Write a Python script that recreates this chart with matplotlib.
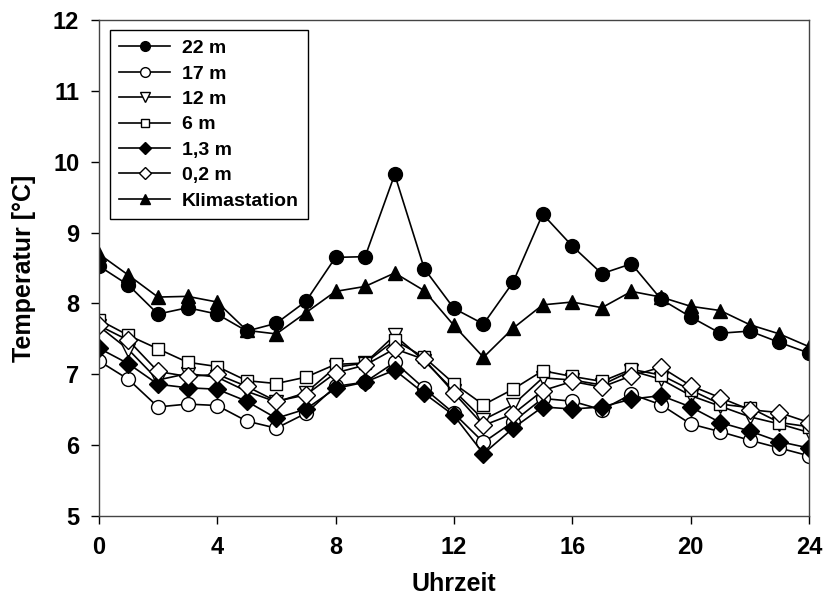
#Temperaturverlauf ueber den Tag in verschiedenen Hoehen

import numpy as np
import matplotlib.pyplot as plt

plt.rcParams['font.family'] = ['Liberation Sans', 'DejaVu Sans']
plt.rcParams['font.weight'] = 'bold'

#Stunden 0..24
hours = np.arange(0, 25)

t22 = [8.53, 8.26, 7.85, 7.94, 7.85, 7.61, 7.72, 8.03, 8.65, 8.66, 9.82, 8.49, 7.93, 7.71, 8.30,
       9.26, 8.81, 8.42, 8.56, 8.06, 7.81, 7.58, 7.61, 7.45, 7.30]
t17 = [7.19, 6.93, 6.54, 6.58, 6.56, 6.34, 6.24, 6.45, 6.83, 6.89, 7.17, 6.80, 6.45, 6.04, 6.33,
       6.66, 6.62, 6.50, 6.72, 6.57, 6.30, 6.19, 6.07, 5.96, 5.85]
t12 = [7.68, 7.35, 6.92, 7.01, 6.96, 6.76, 6.61, 6.74, 7.10, 7.16, 7.55, 7.19, 6.77, 6.36, 6.57,
       6.95, 6.92, 6.85, 7.05, 6.93, 6.70, 6.55, 6.40, 6.30, 6.18]
t6 = [7.77, 7.55, 7.36, 7.17, 7.11, 6.91, 6.87, 6.96, 7.14, 7.16, 7.48, 7.24, 6.87, 6.57, 6.79,
      7.05, 6.97, 6.90, 7.07, 6.99, 6.78, 6.58, 6.53, 6.32, 6.26]
t13 = [7.37, 7.15, 6.86, 6.81, 6.79, 6.62, 6.38, 6.51, 6.80, 6.89, 7.06, 6.73, 6.42, 5.88, 6.24,
       6.54, 6.51, 6.54, 6.65, 6.70, 6.54, 6.32, 6.20, 6.05, 5.96]
t02 = [7.69, 7.48, 7.04, 6.97, 7.00, 6.83, 6.62, 6.71, 7.02, 7.13, 7.36, 7.21, 6.74, 6.28, 6.44,
       6.77, 6.90, 6.82, 6.98, 7.10, 6.84, 6.67, 6.50, 6.46, 6.32]
tklima = [8.70, 8.40, 8.09, 8.10, 8.02, 7.62, 7.57, 7.87, 8.17, 8.24, 8.43, 8.18, 7.69, 7.24, 7.65,
          7.98, 8.02, 7.94, 8.17, 8.09, 7.96, 7.90, 7.70, 7.57, 7.39]

fig = plt.figure(figsize=(8.23, 6.05), dpi=100)
ax = fig.add_axes([0.120, 0.147, 0.863, 0.820])

ms = 10
lw = 1.2
ax.plot(hours, t22, color="black", lw=lw, marker="o", ms=ms, mfc="black", mec="black", label="22 m")
ax.plot(hours, t17, color="black", lw=lw, marker="o", ms=ms, mfc="white", mec="black", label="17 m")
ax.plot(hours, t12, color="black", lw=lw, marker="v", ms=ms, mfc="white", mec="black", label="12 m")
ax.plot(hours, t6, color="black", lw=lw, marker="s", ms=ms - 1, mfc="white", mec="black", label="6 m")
ax.plot(hours, t13, color="black", lw=lw, marker="D", ms=ms - 1, mfc="black", mec="black", label="1,3 m")
ax.plot(hours, t02, color="black", lw=lw, marker="D", ms=ms - 1, mfc="white", mec="black", label="0,2 m")
ax.plot(hours, tklima, color="black", lw=lw, marker="^", ms=ms, mfc="black", mec="black", label="Klimastation")

#Achsen
ax.set_xlim(0, 24)
ax.set_ylim(5, 12)
ax.set_xticks(np.arange(0, 25, 4))
ax.set_yticks(np.arange(5, 13, 1))
ax.tick_params(direction="out", length=6, width=1, labelsize=17, pad=8)
for lab in ax.get_xticklabels() + ax.get_yticklabels():
    lab.set_fontweight("bold")
for s in ax.spines.values():
    s.set_linewidth(1)
    s.set_color("#444444")

ax.set_xlabel("Uhrzeit", fontsize=18, fontweight="bold", labelpad=10)
ax.set_ylabel("Temperatur [°C]", fontsize=18, fontweight="bold", labelpad=12)

leg = ax.legend(loc="upper left", bbox_to_anchor=(0.0155, 0.98), borderaxespad=0,
                fancybox=False, edgecolor="black", framealpha=1, markerscale=0.7,
                handlelength=2.6, handletextpad=0.6, borderpad=0.5, labelspacing=0.4,
                prop={"weight": "bold", "size": 14})
leg.get_frame().set_linewidth(1)

plt.savefig("out.png", dpi=100)
